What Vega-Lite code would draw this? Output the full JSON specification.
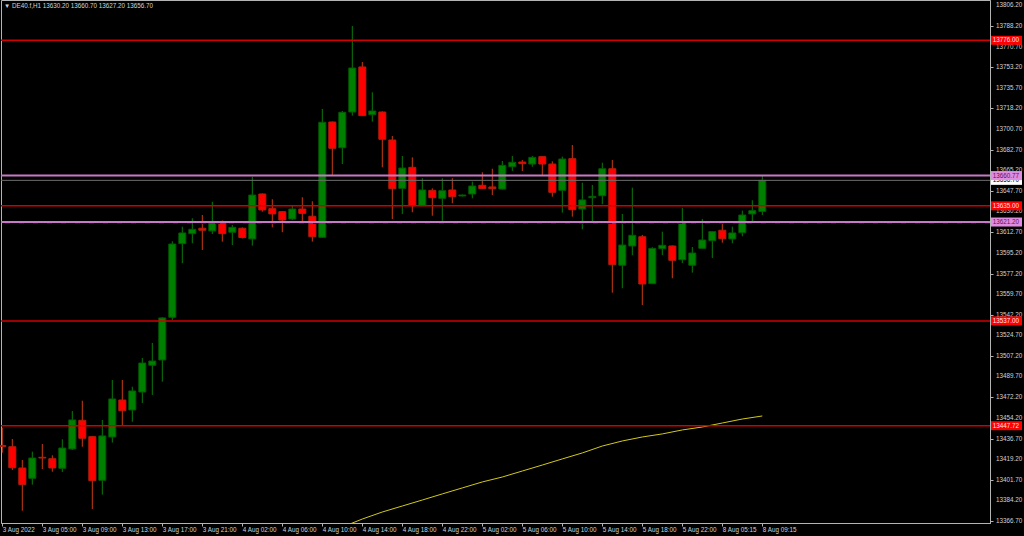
{
  "$schema": "https://vega.github.io/schema/vega-lite/v6.json",
  "width": 989,
  "height": 523,
  "autosize": {"type": "none"},
  "padding": {"left": 1, "top": 0, "right": 34, "bottom": 13},
  "background": "#000000",
  "config": {
    "view": {"stroke": "#b4b4b4", "strokeWidth": 1, "fill": "#000000"},
    "font": "Liberation Sans",
    "axis": {"grid": false, "domainColor": "#b4b4b4", "tickColor": "#b4b4b4", "labelColor": "#d2d2d2", "labelFontSize": 6.3, "labelFont": "Liberation Sans", "tickSize": 3, "labelOverlap": false, "labelFlush": false, "labelBound": false}
  },
  "title": {
    "text": "▼  DE40.f,H1  13630.20 13660.70 13627.20 13656.70",
    "anchor": "start", "frame": "group", "orient": "top",
    "offset": -9, "baseline": "alphabetic", "dx": 3, "dy": 5,
    "fontSize": 6.3, "fontWeight": "normal", "color": "#d2d2d2", "font": "Liberation Sans"
  },
  "datasets": {
    "candles": [
      {"k":0,"o":13430.9,"h":13446.0,"l":13424.7,"c":13430.0},
      {"k":1,"o":13429.8,"h":13436.4,"l":13410.0,"c":13411.9},
      {"k":2,"o":13411.7,"h":13418.5,"l":13375.3,"c":13397.5},
      {"k":3,"o":13402.9,"h":13425.6,"l":13397.5,"c":13420.2},
      {"k":4,"o":13420.8,"h":13432.1,"l":13410.8,"c":13420.2},
      {"k":5,"o":13419.6,"h":13422.5,"l":13408.5,"c":13411.7},
      {"k":6,"o":13411.4,"h":13436.1,"l":13408.3,"c":13428.7},
      {"k":7,"o":13427.9,"h":13460.2,"l":13427.0,"c":13452.6},
      {"k":8,"o":13452.3,"h":13469.0,"l":13429.8,"c":13437.0},
      {"k":9,"o":13438.4,"h":13439.0,"l":13376.8,"c":13400.9},
      {"k":10,"o":13401.2,"h":13452.6,"l":13389.0,"c":13439.0},
      {"k":11,"o":13438.1,"h":13486.7,"l":13433.3,"c":13470.5},
      {"k":12,"o":13469.6,"h":13486.7,"l":13448.3,"c":13460.5},
      {"k":13,"o":13461.1,"h":13480.9,"l":13451.1,"c":13477.3},
      {"k":14,"o":13476.4,"h":13505.4,"l":13467.1,"c":13501.1},
      {"k":15,"o":13499.2,"h":13518.2,"l":13473.9,"c":13502.8},
      {"k":16,"o":13503.7,"h":13540.1,"l":13485.2,"c":13539.5},
      {"k":17,"o":13540.1,"h":13604.8,"l":13537.8,"c":13602.5},
      {"k":18,"o":13602.8,"h":13617.2,"l":13586.1,"c":13611.9},
      {"k":19,"o":13611.3,"h":13624.4,"l":13603.1,"c":13615.0},
      {"k":20,"o":13615.9,"h":13627.2,"l":13597.4,"c":13614.2},
      {"k":21,"o":13613.6,"h":13638.5,"l":13611.0,"c":13620.4},
      {"k":22,"o":13621.5,"h":13622.5,"l":13604.5,"c":13611.3},
      {"k":23,"o":13612.5,"h":13618.7,"l":13601.6,"c":13616.7},
      {"k":24,"o":13615.9,"h":13616.6,"l":13607.2,"c":13608.0},
      {"k":25,"o":13606.8,"h":13659.8,"l":13601.1,"c":13644.2},
      {"k":26,"o":13645.1,"h":13645.5,"l":13630.0,"c":13631.5},
      {"k":27,"o":13632.6,"h":13640.6,"l":13616.7,"c":13628.1},
      {"k":28,"o":13630.0,"h":13630.2,"l":13612.5,"c":13622.9},
      {"k":29,"o":13623.8,"h":13635.5,"l":13622.9,"c":13632.3},
      {"k":30,"o":13632.3,"h":13642.3,"l":13621.5,"c":13628.6},
      {"k":31,"o":13626.1,"h":13638.9,"l":13604.5,"c":13608.7},
      {"k":32,"o":13608.2,"h":13717.5,"l":13607.6,"c":13706.2},
      {"k":33,"o":13706.4,"h":13706.8,"l":13660.7,"c":13684.0},
      {"k":34,"o":13684.5,"h":13715.8,"l":13670.6,"c":13714.7},
      {"k":35,"o":13714.9,"h":13788.2,"l":13711.8,"c":13752.4},
      {"k":36,"o":13753.3,"h":13757.5,"l":13711.5,"c":13711.8},
      {"k":37,"o":13712.6,"h":13731.7,"l":13706.7,"c":13715.8},
      {"k":38,"o":13714.9,"h":13715.4,"l":13667.8,"c":13691.7},
      {"k":39,"o":13691.1,"h":13694.5,"l":13623.8,"c":13649.6},
      {"k":40,"o":13649.9,"h":13677.5,"l":13628.1,"c":13667.2},
      {"k":41,"o":13667.8,"h":13676.3,"l":13629.5,"c":13635.1},
      {"k":42,"o":13635.1,"h":13658.5,"l":13634.9,"c":13648.5},
      {"k":43,"o":13648.2,"h":13649.9,"l":13626.6,"c":13641.9},
      {"k":44,"o":13641.4,"h":13658.5,"l":13622.3,"c":13647.9},
      {"k":45,"o":13648.5,"h":13658.5,"l":13637.2,"c":13642.8},
      {"k":46,"o":13643.4,"h":13644.7,"l":13643.0,"c":13644.2},
      {"k":47,"o":13645.1,"h":13655.6,"l":13641.4,"c":13651.9},
      {"k":48,"o":13652.5,"h":13663.6,"l":13649.3,"c":13649.6},
      {"k":49,"o":13651.1,"h":13666.6,"l":13644.2,"c":13649.6},
      {"k":50,"o":13649.3,"h":13673.2,"l":13648.9,"c":13669.5},
      {"k":51,"o":13668.3,"h":13677.5,"l":13664.7,"c":13672.1},
      {"k":52,"o":13672.3,"h":13674.0,"l":13664.7,"c":13670.9},
      {"k":53,"o":13670.6,"h":13677.5,"l":13668.3,"c":13676.3},
      {"k":54,"o":13676.9,"h":13677.2,"l":13660.7,"c":13670.6},
      {"k":55,"o":13670.6,"h":13672.9,"l":13642.8,"c":13646.5},
      {"k":56,"o":13648.2,"h":13676.9,"l":13629.2,"c":13674.9},
      {"k":57,"o":13675.2,"h":13686.8,"l":13625.8,"c":13631.7},
      {"k":58,"o":13632.3,"h":13654.7,"l":13615.0,"c":13640.0},
      {"k":59,"o":13641.9,"h":13652.8,"l":13620.6,"c":13643.1},
      {"k":60,"o":13643.6,"h":13671.7,"l":13636.3,"c":13666.6},
      {"k":61,"o":13666.6,"h":13674.0,"l":13561.0,"c":13584.9},
      {"k":62,"o":13584.4,"h":13628.1,"l":13564.8,"c":13601.6},
      {"k":63,"o":13600.8,"h":13650.5,"l":13592.9,"c":13609.9},
      {"k":64,"o":13608.7,"h":13610.2,"l":13550.5,"c":13568.4},
      {"k":65,"o":13568.7,"h":13599.7,"l":13568.4,"c":13598.8},
      {"k":66,"o":13598.5,"h":13613.0,"l":13593.1,"c":13601.4},
      {"k":67,"o":13600.8,"h":13601.2,"l":13573.3,"c":13588.6},
      {"k":68,"o":13589.1,"h":13633.4,"l":13586.3,"c":13620.6},
      {"k":69,"o":13584.4,"h":13599.9,"l":13578.1,"c":13594.8},
      {"k":70,"o":13598.8,"h":13623.8,"l":13598.7,"c":13605.9},
      {"k":71,"o":13605.3,"h":13613.1,"l":13590.6,"c":13613.0},
      {"k":72,"o":13614.2,"h":13620.1,"l":13603.6,"c":13607.0},
      {"k":73,"o":13606.8,"h":13617.2,"l":13603.1,"c":13611.9},
      {"k":74,"o":13612.1,"h":13630.9,"l":13609.1,"c":13627.2},
      {"k":75,"o":13628.1,"h":13639.7,"l":13621.5,"c":13630.9},
      {"k":76,"o":13630.2,"h":13660.7,"l":13627.2,"c":13656.7}
    ],
    "ma": [
      {"k":34,"ma":13361.4},{"k":36,"ma":13368.2},{"k":38,"ma":13374.2},{"k":40,"ma":13379.3},
      {"k":42,"ma":13384.4},{"k":44,"ma":13389.6},{"k":46,"ma":13394.7},{"k":48,"ma":13399.8},
      {"k":50,"ma":13404.0},{"k":52,"ma":13409.1},{"k":54,"ma":13414.2},{"k":56,"ma":13419.4},
      {"k":58,"ma":13424.5},{"k":60,"ma":13430.4},{"k":62,"ma":13434.7},{"k":64,"ma":13438.1},
      {"k":66,"ma":13440.7},{"k":68,"ma":13444.1},{"k":70,"ma":13446.6},{"k":72,"ma":13450.0},
      {"k":74,"ma":13453.4},{"k":76,"ma":13456.0}
    ],
    "yticks": [
      {"v":13806.2},{"v":13788.2},{"v":13770.7},{"v":13753.2},{"v":13735.7},{"v":13718.2},{"v":13700.7},
      {"v":13682.7},{"v":13665.2},{"v":13647.7},{"v":13630.2},{"v":13612.7},{"v":13595.2},{"v":13577.2},
      {"v":13559.7},{"v":13542.2},{"v":13524.7},{"v":13507.2},{"v":13489.7},{"v":13472.2},{"v":13454.2},
      {"v":13436.7},{"v":13419.2},{"v":13401.7},{"v":13384.2},{"v":13366.7}
    ],
    "levels": [
      {"price":13656.70,"kind":"bid","label":"13656.70"},
      {"price":13776.00,"kind":"red","label":"13776.00"},
      {"price":13635.00,"kind":"red","label":"13635.00"},
      {"price":13537.00,"kind":"red","label":"13537.00"},
      {"price":13447.72,"kind":"red","label":"13447.72"},
      {"price":13660.77,"kind":"violet","label":"13660.77"},
      {"price":13621.20,"kind":"violet","label":"13621.20"}
    ]
  },
  "layer": [
    {
      "data": {"name": "candles"},
      "mark": {"type": "rule", "strokeWidth": 1},
      "encoding": {
        "x": {"field": "k", "type": "quantitative", "title": null,
          "scale": {"domain": [-0.13, 98.77], "nice": false, "zero": false, "padding": 0},
          "axis": {"orient": "bottom", "values": [0,4,8,12,16,20,24,28,32,36,40,44,48,52,56,60,64,68,72,76],
            "labelExpr": "['3 Aug 2022','3 Aug 05:00','3 Aug 09:00','3 Aug 13:00','3 Aug 17:00','3 Aug 21:00','4 Aug 02:00','4 Aug 06:00','4 Aug 10:00','4 Aug 14:00','4 Aug 18:00','4 Aug 22:00','5 Aug 02:00','5 Aug 06:00','5 Aug 10:00','5 Aug 14:00','5 Aug 18:00','5 Aug 22:00','8 Aug 05:15','8 Aug 09:15'][round(datum.value/4)]",
            "labelAlign": "left", "labelBaseline": "top", "labelPadding": 0, "labelOverlap": false, "labelBound": false, "labelFlush": false, "title": null}},
        "y": {"field": "l", "type": "quantitative", "title": null,
          "scale": {"domain": [13364.83, 13810.33], "nice": false, "zero": false, "padding": 0},
          "axis": {"orient": "right", "values": [13806.2,13788.2,13770.7,13753.2,13735.7,13718.2,13700.7,13682.7,13665.2,13647.7,13630.2,13612.7,13595.2,13577.2,13559.7,13542.2,13524.7,13507.2,13489.7,13472.2,13454.2,13436.7,13419.2,13401.7,13384.2,13366.7],
            "labels": false, "title": null}},
        "y2": {"field": "h"},
        "color": {"condition": {"test": "datum.c >= datum.o", "value": "#0c7a0c"}, "value": "#c83c14"}
      }
    },
    {
      "data": {"name": "candles"},
      "mark": {"type": "bar", "size": 7, "strokeWidth": 1},
      "encoding": {
        "x": {"field": "k", "type": "quantitative", "title": null},
        "y": {"field": "o", "type": "quantitative", "title": null},
        "y2": {"field": "c"},
        "fill": {"condition": {"test": "datum.c >= datum.o", "value": "#008000"}, "value": "#ff0000"},
        "stroke": {"condition": {"test": "datum.c >= datum.o", "value": "#035a03"}, "value": "#b41e0a"}
      }
    },
    {
      "data": {"name": "ma"},
      "mark": {"type": "line", "strokeWidth": 1, "color": "#d2c81e", "clip": true},
      "encoding": {
        "x": {"field": "k", "type": "quantitative", "title": null},
        "y": {"field": "ma", "type": "quantitative", "title": null}
      }
    },
    {
      "data": {"name": "yticks"},
      "mark": {"type": "text", "align": "left", "baseline": "middle", "fontSize": 6.3, "font": "Liberation Sans", "color": "#d2d2d2"},
      "encoding": {
        "x": {"datum": 99.37},
        "y": {"field": "v", "type": "quantitative", "title": null},
        "text": {"field": "v", "type": "quantitative", "format": ".2f"}
      }
    },
    {
      "data": {"name": "levels"},
      "mark": {"type": "rule"},
      "encoding": {
        "y": {"field": "price", "type": "quantitative", "title": null},
        "color": {"condition": [{"test": "datum.kind == 'violet'", "value": "#c878c8"}, {"test": "datum.kind == 'bid'", "value": "#6e6e6e"}], "value": "#d20000"},
        "strokeWidth": {"condition": [{"test": "datum.kind == 'violet'", "value": 2}, {"test": "datum.kind == 'bid'", "value": 1}], "value": 1.5}
      }
    },
    {
      "data": {"name": "levels"},
      "transform": [{"filter": "datum.label == '13621.20'"}],
      "mark": {"type": "rule", "strokeWidth": 1, "color": "#1e1e1e", "strokeDash": [5, 9], "yOffset": 1.5},
      "encoding": {
        "y": {"field": "price", "type": "quantitative", "title": null}
      }
    },
    {
      "data": {"name": "levels"},
      "transform": [{"filter": "datum.kind == 'bid'"}],
      "mark": {"type": "rule", "strokeWidth": 9, "strokeCap": "butt", "color": "#ffffff"},
      "encoding": {
        "x": {"datum": 98.87},
        "x2": {"datum": 101.97},
        "y": {"field": "price", "type": "quantitative", "title": null}
      }
    },
    {
      "data": {"name": "levels"},
      "transform": [{"filter": "datum.kind == 'bid'"}],
      "mark": {"type": "text", "align": "left", "baseline": "middle", "fontSize": 6.3, "font": "Liberation Sans", "color": "#000000"},
      "encoding": {
        "x": {"datum": 99.05},
        "y": {"field": "price", "type": "quantitative", "title": null},
        "text": {"field": "label"}
      }
    },
    {
      "data": {"name": "levels"},
      "transform": [{"filter": "datum.kind != 'bid'"}],
      "mark": {"type": "rule", "strokeWidth": 9, "strokeCap": "butt"},
      "encoding": {
        "x": {"datum": 98.87},
        "x2": {"datum": 101.97},
        "y": {"field": "price", "type": "quantitative", "title": null},
        "color": {"condition": {"test": "datum.kind == 'violet'", "value": "#e08ce0"}, "value": "#ff0000"}
      }
    },
    {
      "data": {"name": "levels"},
      "transform": [{"filter": "datum.kind != 'bid'"}],
      "mark": {"type": "text", "align": "left", "baseline": "middle", "fontSize": 6.3, "font": "Liberation Sans"},
      "encoding": {
        "x": {"datum": 99.05},
        "y": {"field": "price", "type": "quantitative", "title": null},
        "text": {"field": "label"},
        "color": {"condition": {"test": "datum.kind == 'violet'", "value": "#5a145a"}, "value": "#ffe6e6"}
      }
    }
  ]
}
